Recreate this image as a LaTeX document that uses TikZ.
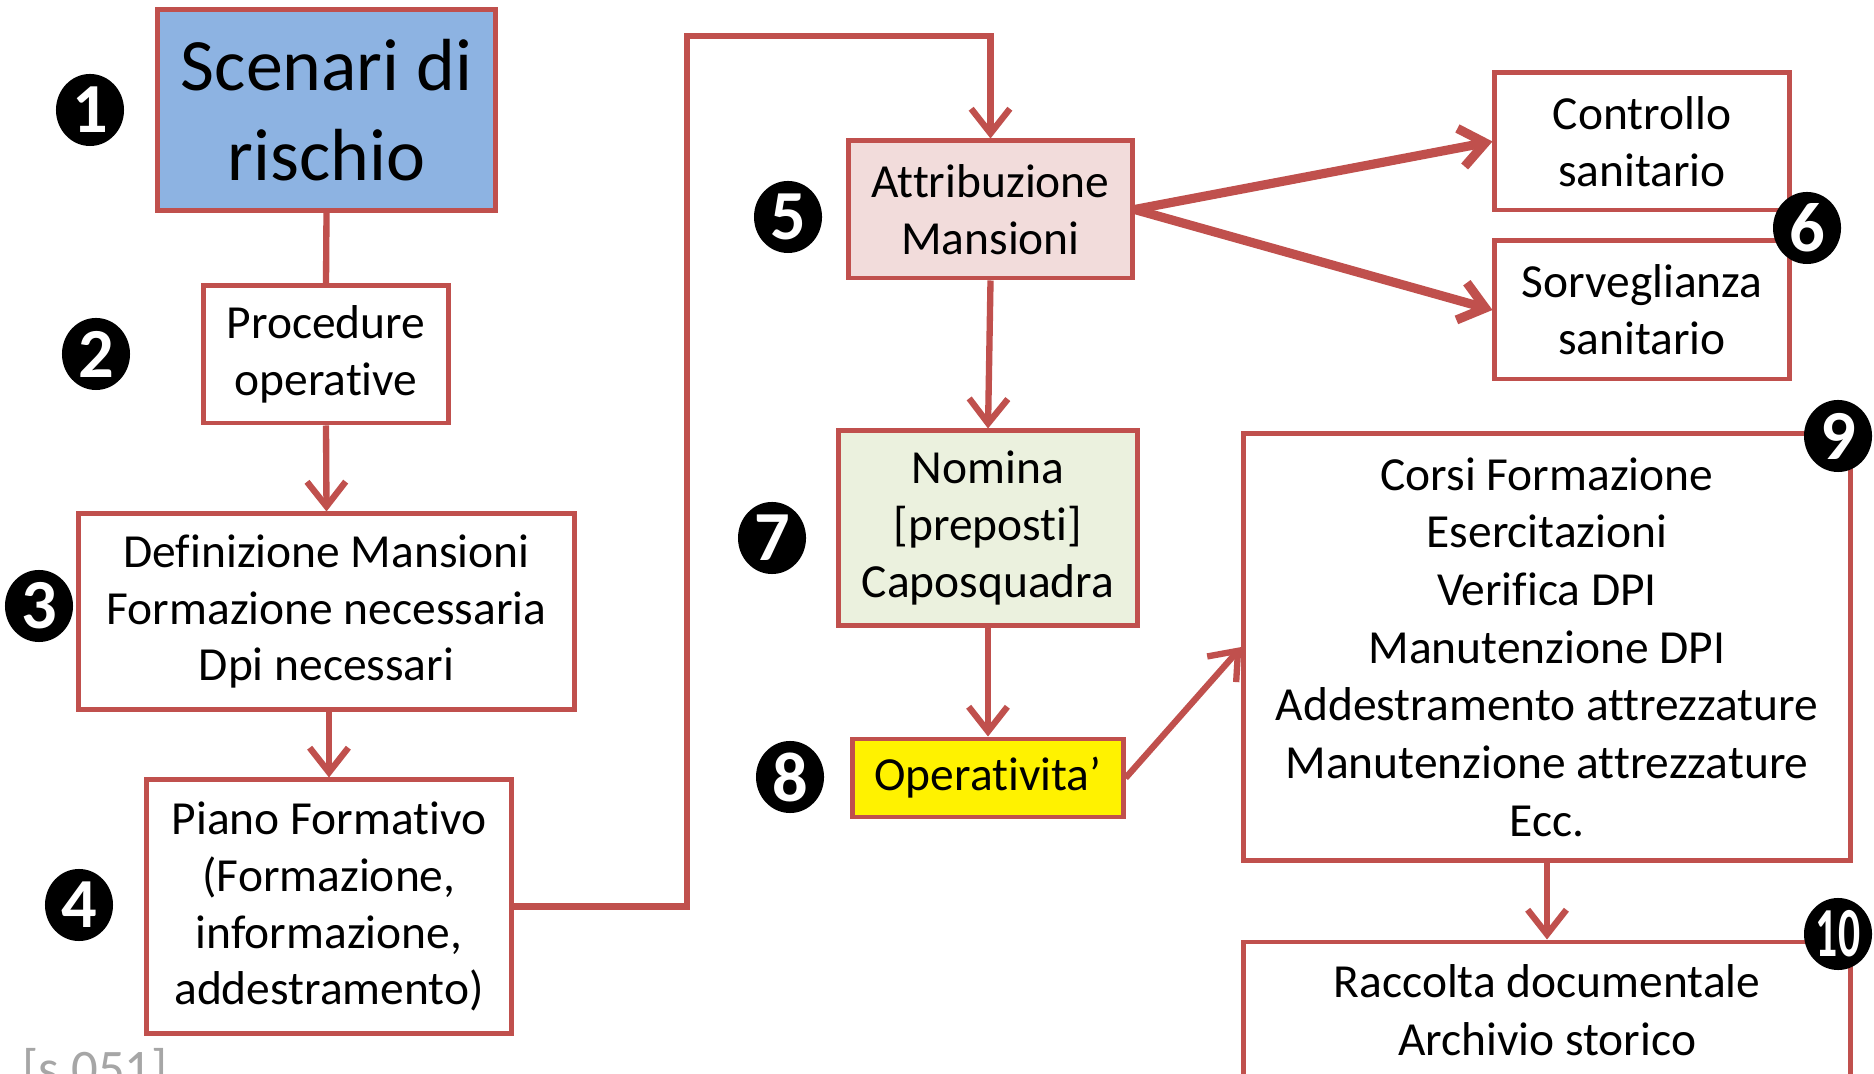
\documentclass[tikz,border=0pt]{standalone}
\usepackage{fontspec}
\setmainfont{Carlito}[Ligatures=NoCommon]
\usepackage{xcolor}
\usepackage{tikz}
\usetikzlibrary{arrows.meta,positioning}
\definecolor{BoxRed}{HTML}{C0504D}
\definecolor{SkyBlue}{HTML}{8DB3E2}
\definecolor{PinkFill}{HTML}{F2DCDB}
\definecolor{SageFill}{HTML}{EBF1DE}
\definecolor{NoteGray}{HTML}{A6A6A6}
\tikzset{
  stepbox/.style={draw=BoxRed,fill=white,line width=1.4pt,
    font=\fontsize{13.5}{16.2}\selectfont,align=center,inner sep=0pt},
  badge/.style={ellipse,fill=black,minimum width=0.68cm,minimum height=0.72cm,inner sep=0pt,
    font=\fontsize{20}{20}\selectfont\bfseries\color{white}},
  flow/.style={draw=BoxRed,line width=1.8pt,-{Straight Barb[length=7pt,width=11pt]}},
  flowT/.style={flow,line width=2.6pt},
  link/.style={draw=BoxRed,line width=1.8pt},
}
\usetikzlibrary{shapes.geometric}

\begin{document}
\begin{tikzpicture}[x=0.01cm,y=-0.01cm]
  \clip (0,0) rectangle (1874,1074);
  \fill[white] (0,0) rectangle (1874,1074);
  % left column
  \node[stepbox,fill=SkyBlue,minimum width=3.37cm,minimum height=2.00cm,
    font=\fontsize{21}{25.5}\selectfont] (scen) at (326.5,110) {Scenari di\\rischio};
  \node[stepbox,minimum width=2.44cm,minimum height=1.37cm] (proc) at (326,354.5) {Procedure\\operative};
  \node[stepbox,minimum width=4.95cm,minimum height=1.95cm] (defi) at (326.5,611.5)
    {Definizione Mansioni\\Formazione necessaria\\Dpi necessari};
  \node[stepbox,minimum width=3.64cm,minimum height=2.53cm] (piano) at (329,906.5)
    {Piano Formativo\\(Formazione,\\informazione,\\addestramento)};
  % middle column
  \node[stepbox,fill=PinkFill,minimum width=2.83cm,minimum height=1.37cm] (attr) at (990.5,209.5)
    {Attribuzione\\Mansioni};
  \node[stepbox,fill=SageFill,minimum width=2.99cm,minimum height=1.94cm] (nomi) at (988,528)
    {Nomina\\{[preposti]}\\Caposquadra};
  \node[stepbox,fill=yellow,minimum width=2.70cm,minimum height=0.78cm] (oper) at (988,778)
    {Operativita’};
  % right column
  \node[stepbox,minimum width=2.94cm,minimum height=1.37cm] (ctrl) at (1642,141.5)
    {Controllo\\sanitario};
  \node[stepbox,minimum width=2.94cm,minimum height=1.38cm] (sorv) at (1642,310)
    {Sorveglianza\\sanitario};
  \node[stepbox,minimum width=6.06cm,minimum height=4.26cm,
    font=\fontsize{13.5}{16.4}\selectfont] (corsi) at (1547,647)
    {Corsi Formazione\\Esercitazioni\\Verifica DPI\\Manutenzione DPI\\Addestramento attrezzature\\Manutenzione attrezzature\\Ecc.};
  \node[stepbox,minimum width=6.06cm,minimum height=1.36cm,
    font=\fontsize{13.5}{16.4}\selectfont] (racc) at (1547,1010)
    {Raccolta documentale\\Archivio storico};
  % connectors
  \coordinate (loopTop) at (687,36);
  \draw[link] (scen.south) -- (proc.north);
  \draw[flow] (proc.south) -- (defi.north);
  \draw[flow] (piano.north |- defi.south) -- (piano.north);
  \draw[flow] (piano.east) -| (loopTop) -| (attr.north);
  \draw[flowT] (attr.east) -- (ctrl.west);
  \draw[flowT] (attr.east) -- (sorv.west);
  \draw[flow] (attr.south) -- (nomi.north);
  \draw[flow] (nomi.south) -- (oper.north);
  \draw[flow] (oper.east) -- (corsi.west);
  \draw[flow] (corsi.south) -- (racc.north);
  % numbered badges
  \node[badge] (b1) at (90,110) {1};
  \node[badge] (b2) at (96,354) {2};
  \node[badge] (b3) at (39,606) {3};
  \node[badge] (b4) at (79,905) {4};
  \node[badge] (b5) at (788,217) {5};
  \node[badge] (b6) at (1807,228) {6};
  \node[badge] (b7) at (772,538) {7};
  \node[badge] (b8) at (790,777) {8};
  \node[badge] (b9) at (1838,436) {9};
  \node[badge] (b10) at (1838,934) {\scalebox{0.62}[1]{10}};
  \node[anchor=north west,inner sep=0pt,text=NoteGray,
    font=\fontsize{15}{15}\selectfont] (slide) at (22,1048) {[s 051]};
\end{tikzpicture}
\end{document}
